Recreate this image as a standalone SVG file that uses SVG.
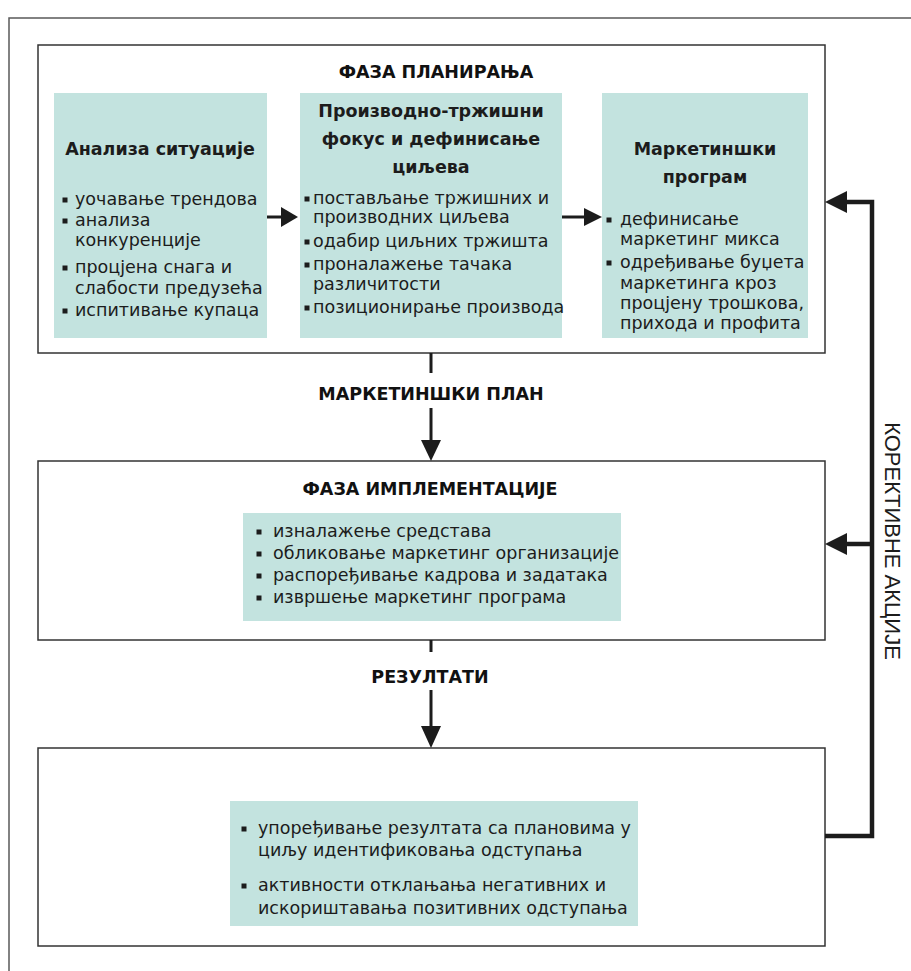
<svg xmlns="http://www.w3.org/2000/svg" xmlns:xlink="http://www.w3.org/1999/xlink" width="911" height="971" viewBox="0 0 911 971">
<style>
.frame{fill:none;stroke:#5a5a5a;stroke-width:1.5}
.box{fill:#fff;stroke:#333;stroke-width:1.5}
.green{fill:#c3e3df}
.t{font-family:"DejaVu Sans",Verdana,sans-serif;font-size:17.5px;fill:#1c1c1c}
.b{font-family:"DejaVu Sans",Verdana,sans-serif;font-size:17.5px;font-weight:bold;fill:#1c1c1c;text-anchor:middle}
.h{font-family:"DejaVu Sans",Verdana,sans-serif;font-size:17.5px;font-weight:bold;fill:#111;text-anchor:middle}
.v{font-family:"Liberation Sans",Arial,sans-serif;font-size:22px;fill:#1c1c1c;text-anchor:middle}
.ln{fill:none;stroke:#1c1c1c;stroke-width:3}
.fb{fill:none;stroke:#1c1c1c;stroke-width:4.5}
.ah{fill:#1c1c1c}
</style>
<defs>
<rect id="bu" x="-2.5" y="-2.5" width="5" height="5" fill="#1c1c1c"/>
</defs>
<rect width="911" height="971" fill="#fff"/>
<path class="frame" d="M9,971 V18 H911"/>

<g id="phase1">
<rect class="box" x="38" y="45" width="787" height="308"/>
<text class="h" x="436" y="78">ФАЗА ПЛАНИРАЊА</text>
</g>

<g id="situation">
<rect class="green" x="54" y="93" width="213" height="245"/>
<text class="b" x="160" y="155">Анализа ситуације</text>
<use xlink:href="#bu" x="65" y="200"/>
<text class="t" x="75" y="205">уочавање трендова</text>
<use xlink:href="#bu" x="65" y="221"/>
<text class="t" x="75" y="226">анализа</text>
<text class="t" x="75" y="246">конкуренције</text>
<use xlink:href="#bu" x="65" y="268"/>
<text class="t" x="75" y="273">процјена снага и</text>
<text class="t" x="75" y="294">слабости предузећа</text>
<use xlink:href="#bu" x="65" y="311"/>
<text class="t" x="75" y="316">испитивање купаца</text>
</g>

<g id="focus">
<rect class="green" x="300" y="93" width="262" height="245"/>
<text class="b" x="431" y="117">Производно-тржишни</text>
<text class="b" x="431" y="145">фокус и дефинисање</text>
<text class="b" x="431" y="173">циљева</text>
<use xlink:href="#bu" x="307" y="199"/>
<text class="t" x="313" y="204">постављање тржишних и</text>
<text class="t" x="313" y="223">производних циљева</text>
<use xlink:href="#bu" x="307" y="242"/>
<text class="t" x="313" y="247">одабир циљних тржишта</text>
<use xlink:href="#bu" x="307" y="265"/>
<text class="t" x="313" y="270">проналажење тачака</text>
<text class="t" x="313" y="290">различитости</text>
<use xlink:href="#bu" x="307" y="308"/>
<text class="t" x="313" y="313">позиционирање производа</text>
</g>

<g id="program">
<rect class="green" x="602" y="93" width="206" height="245"/>
<text class="b" x="705" y="155">Маркетиншки</text>
<text class="b" x="705" y="183">програм</text>
<use xlink:href="#bu" x="609" y="220"/>
<text class="t" x="620" y="225">дефинисање</text>
<text class="t" x="620" y="245">маркетинг микса</text>
<use xlink:href="#bu" x="609" y="263"/>
<text class="t" x="620" y="268">одређивање буџета</text>
<text class="t" x="620" y="289">маркетинга кроз</text>
<text class="t" x="620" y="309">процјену трошкова,</text>
<text class="t" x="620" y="329">прихода и профита</text>
</g>

<g id="phase2">
<rect class="box" x="38" y="461" width="787" height="179"/>
<text class="h" x="430" y="495">ФАЗА ИМПЛЕМЕНТАЦИЈЕ</text>
<rect class="green" x="243" y="513" width="378" height="108"/>
<use xlink:href="#bu" x="259" y="532"/>
<text class="t" x="273" y="537">изналажење средстава</text>
<use xlink:href="#bu" x="259" y="554"/>
<text class="t" x="273" y="559">обликовање маркетинг организације</text>
<use xlink:href="#bu" x="259" y="576"/>
<text class="t" x="273" y="581">распоређивање кадрова и задатака</text>
<use xlink:href="#bu" x="259" y="598"/>
<text class="t" x="273" y="603">извршење маркетинг програма</text>
</g>

<g id="phase3">
<rect class="box" x="38" y="748" width="787" height="198"/>
<rect class="green" x="230" y="801" width="408" height="125"/>
<use xlink:href="#bu" x="244" y="829"/>
<text class="t" x="258" y="834">упоређивање резултата са плановима у</text>
<text class="t" x="258" y="856">циљу идентификовања одступања</text>
<use xlink:href="#bu" x="244" y="886"/>
<text class="t" x="258" y="891">активности отклањања негативних и</text>
<text class="t" x="258" y="914">искориштавања позитивних одступања</text>
</g>

<g id="connectors">
<path class="ln" d="M267,217 H284"/>
<polygon class="ah" points="281,207 298,217 281,227"/>
<path class="ln" d="M562,217 H586"/>
<polygon class="ah" points="584,208 602,217 584,226"/>
<path class="ln" d="M431,353 V373 M431,408 V442"/>
<polygon class="ah" points="421,440 441,440 431,461"/>
<text class="h" x="431" y="400">МАРКЕТИНШКИ ПЛАН</text>
<path class="ln" d="M431,640 V652 M431,690 V728"/>
<polygon class="ah" points="421,726 441,726 431,748"/>
<text class="h" x="430" y="683">РЕЗУЛТАТИ</text>
<path class="fb" d="M825,836 H872 V202 H845 M872,544 H845"/>
<polygon class="ah" points="825,202 847,191 847,213"/>
<polygon class="ah" points="825,544 847,533 847,555"/>
<text class="v" transform="translate(885,541) rotate(90)">КОРЕКТИВНЕ АКЦИЈЕ</text>
</g>
</svg>
